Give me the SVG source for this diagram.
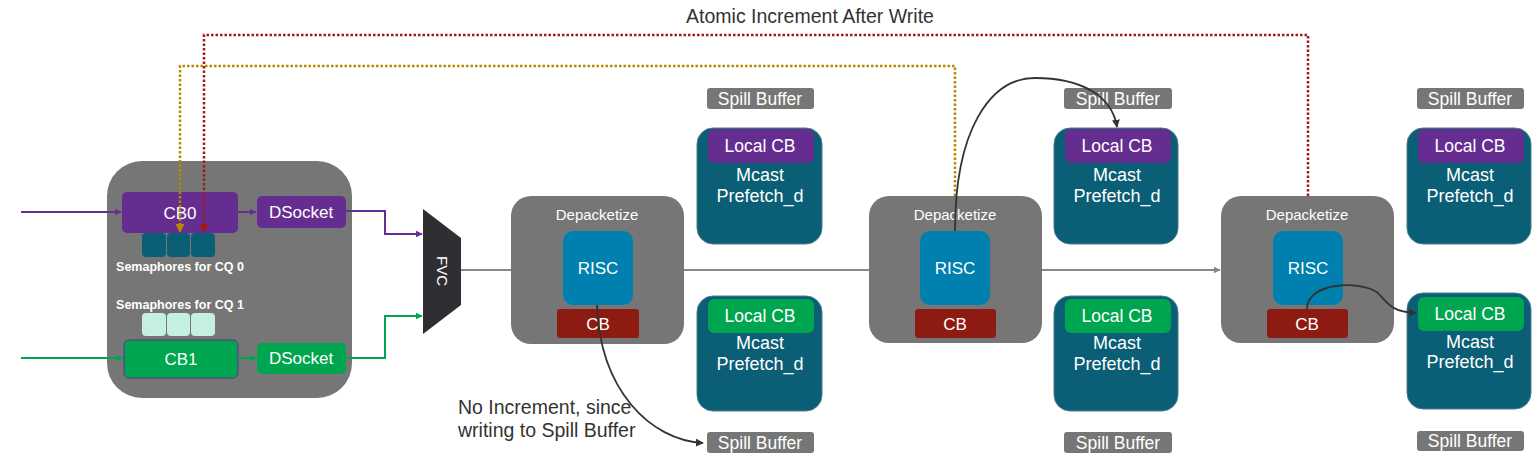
<svg xmlns="http://www.w3.org/2000/svg" width="1540" height="461" viewBox="0 0 1540 461">
<defs>
<style>
text{font-family:"Liberation Sans",Arial,sans-serif;}
.w{fill:#fff;text-anchor:middle;}
.dk{fill:#333;}
.gray{fill:#767676;}
.purple{fill:#662d91;}
.green{fill:#00a54f;}
.teal{fill:#0a5e75;}
.mc{fill:#0a5e75;stroke:#4f7c8b;stroke-width:1;}
.risc{fill:#0080ae;}
.cbr{fill:#8e1b12;}
.dot{fill:none;stroke-width:2.5;stroke-dasharray:2.5 2;}
.sb{font-size:17.5px;}
.lc{font-size:17.5px;}
.mt{font-size:18px;}
</style>
<marker id="aP" viewBox="0 0 10 10" refX="9" refY="5" markerWidth="7" markerHeight="7" orient="auto" markerUnits="userSpaceOnUse"><path d="M0,0 L10,5 L0,10 z" fill="#662d91"/></marker>
<marker id="aG" viewBox="0 0 10 10" refX="9" refY="5" markerWidth="7" markerHeight="7" orient="auto" markerUnits="userSpaceOnUse"><path d="M0,0 L10,5 L0,10 z" fill="#00a54f"/></marker>
<marker id="aGr" viewBox="0 0 10 10" refX="9" refY="5" markerWidth="7" markerHeight="7" orient="auto" markerUnits="userSpaceOnUse"><path d="M0,0 L10,5 L0,10 z" fill="#888"/></marker>
<marker id="aK" viewBox="0 0 10 10" refX="9" refY="5" markerWidth="8" markerHeight="8" orient="auto" markerUnits="userSpaceOnUse"><path d="M0,0 L10,5 L0,10 z" fill="#333"/></marker>
<marker id="aY" viewBox="0 0 10 10" refX="9" refY="5" markerWidth="9" markerHeight="9" orient="auto" markerUnits="userSpaceOnUse"><path d="M0,0 L10,5 L0,10 z" fill="#b58a00"/></marker>
<marker id="aR" viewBox="0 0 10 10" refX="9" refY="5" markerWidth="9" markerHeight="9" orient="auto" markerUnits="userSpaceOnUse"><path d="M0,0 L10,5 L0,10 z" fill="#9e1b1b"/></marker>
</defs>
<rect width="1540" height="461" fill="#fff"/>

<text x="810" y="23" font-size="19.5" class="dk" text-anchor="middle">Atomic Increment After Write</text>

<g id="host">
<rect x="107" y="161" width="245" height="237" rx="35" class="gray"/>
<g id="cb0"><rect x="122" y="192" width="116" height="41" rx="5" class="purple"/><text x="180" y="219" font-size="17" class="w">CB0</text></g>
<g id="dsocket0"><rect x="257" y="196" width="89" height="32" rx="5" class="purple"/><text x="301" y="218" font-size="17" class="w">DSocket</text></g>
<g id="sem0">
<rect x="142" y="233" width="24" height="24" rx="4" class="teal"/>
<rect x="167" y="233" width="23" height="24" rx="4" class="teal"/>
<rect x="191" y="233" width="24" height="24" rx="4" class="teal"/>
<text x="180" y="271" font-size="12.5" font-weight="bold" class="w">Semaphores for CQ 0</text>
</g>
<g id="sem1">
<text x="180" y="309" font-size="12.5" font-weight="bold" class="w">Semaphores for CQ 1</text>
<rect x="142" y="313" width="24" height="23" rx="4" fill="#c5efe0"/>
<rect x="167" y="313" width="23" height="23" rx="4" fill="#c5efe0"/>
<rect x="191" y="313" width="24" height="23" rx="4" fill="#c5efe0"/>
</g>
<g id="cb1"><rect x="124" y="340" width="114" height="38" rx="5" class="green" stroke="#662d91" stroke-width="1"/><text x="181" y="365" font-size="17" class="w">CB1</text></g>
<g id="dsocket1"><rect x="257" y="343" width="89" height="31" rx="5" class="green"/><text x="301" y="364" font-size="17" class="w">DSocket</text></g>
</g>

<g id="fvc">
<polygon points="423,209 461,238 461,305 423,334" fill="#2e2e33"/>
<text x="0" y="0" font-size="15" class="w" transform="translate(437,271) rotate(90)">FVC</text>
</g>

<g id="dep1">
<rect x="511" y="196" width="173" height="148" rx="20" class="gray"/>
<text x="597" y="220" font-size="15" class="w">Depacketize</text>
<rect x="563" y="231" width="70" height="74" rx="10" class="risc"/>
<text x="598" y="274" font-size="17" class="w">RISC</text>
<rect x="557" y="309" width="82" height="29" rx="3" class="cbr"/>
<text x="598" y="330" font-size="17" class="w">CB</text>
</g>
<g id="dep2">
<rect x="869" y="196" width="173" height="147" rx="20" class="gray"/>
<text x="955" y="220" font-size="15" class="w">Depacketize</text>
<rect x="920" y="231" width="70" height="74" rx="10" class="risc"/>
<text x="955" y="274" font-size="17" class="w">RISC</text>
<rect x="915" y="309" width="81" height="29" rx="3" class="cbr"/>
<text x="955" y="330" font-size="17" class="w">CB</text>
</g>
<g id="dep3">
<rect x="1221" y="196" width="173" height="147" rx="20" class="gray"/>
<text x="1307" y="220" font-size="15" class="w">Depacketize</text>
<rect x="1273" y="231" width="70" height="74" rx="10" class="risc"/>
<text x="1308" y="274" font-size="17" class="w">RISC</text>
<rect x="1267" y="309" width="81" height="29" rx="3" class="cbr"/>
<text x="1307" y="330" font-size="17" class="w">CB</text>
</g>

<g id="spill1t"><rect x="707" y="88" width="107" height="21" rx="3" class="gray"/><text x="760" y="104.5" class="w sb">Spill Buffer</text></g>
<g id="spill1b"><rect x="707" y="432" width="107" height="21" rx="3" class="gray"/><text x="760" y="448.5" class="w sb">Spill Buffer</text></g>
<g id="spill2t"><rect x="1064" y="88" width="108" height="21" rx="3" class="gray"/><text x="1118" y="104.5" class="w sb">Spill Buffer</text></g>
<g id="spill2b"><rect x="1064" y="432" width="108" height="21" rx="3" class="gray"/><text x="1118" y="448.5" class="w sb">Spill Buffer</text></g>
<g id="spill3t"><rect x="1417" y="88" width="107" height="21" rx="3" class="gray"/><text x="1470" y="104.5" class="w sb">Spill Buffer</text></g>
<g id="spill3b"><rect x="1417" y="431" width="107" height="20" rx="3" class="gray"/><text x="1470" y="447" class="w sb">Spill Buffer</text></g>

<g id="mc1t">
<rect x="697" y="128" width="125" height="116" rx="16" class="mc"/>
<rect x="708" y="129" width="106" height="34" rx="6" class="purple"/>
<text x="760" y="152" class="w lc">Local CB</text>
<text x="760" y="181" class="w mt">Mcast</text>
<text x="760" y="202" class="w mt">Prefetch_d</text>
</g>
<g id="mc1b">
<rect x="697" y="296" width="125" height="115" rx="16" class="mc"/>
<rect x="708" y="299" width="106" height="34" rx="6" class="green"/>
<text x="760" y="322" class="w lc">Local CB</text>
<text x="760" y="349" class="w mt">Mcast</text>
<text x="760" y="370" class="w mt">Prefetch_d</text>
</g>
<g id="mc2t">
<rect x="1054" y="128" width="124" height="116" rx="16" class="mc"/>
<rect x="1065" y="129" width="106" height="34" rx="6" class="purple"/>
<text x="1117" y="152" class="w lc">Local CB</text>
<text x="1117" y="181" class="w mt">Mcast</text>
<text x="1117" y="202" class="w mt">Prefetch_d</text>
</g>
<g id="mc2b">
<rect x="1054" y="296" width="124" height="115" rx="16" class="mc"/>
<rect x="1065" y="299" width="106" height="34" rx="6" class="green"/>
<text x="1117" y="322" class="w lc">Local CB</text>
<text x="1117" y="349" class="w mt">Mcast</text>
<text x="1117" y="370" class="w mt">Prefetch_d</text>
</g>
<g id="mc3t">
<rect x="1407" y="128" width="124" height="116" rx="16" class="mc"/>
<rect x="1418" y="129" width="106" height="34" rx="6" class="purple"/>
<text x="1470" y="152" class="w lc">Local CB</text>
<text x="1470" y="181" class="w mt">Mcast</text>
<text x="1470" y="202" class="w mt">Prefetch_d</text>
</g>
<g id="mc3b">
<rect x="1407" y="293" width="124" height="116" rx="16" class="mc"/>
<rect x="1418" y="297" width="106" height="34" rx="6" class="green"/>
<text x="1470" y="320" class="w lc">Local CB</text>
<text x="1470" y="348" class="w mt">Mcast</text>
<text x="1470" y="368" class="w mt">Prefetch_d</text>
</g>

<text x="458" y="414" font-size="19.5" class="dk">No Increment, since</text>
<text x="458" y="437" font-size="19.5" class="dk">writing to Spill Buffer</text>

<g id="connectors">
<path d="M21,212 H121" stroke="#662d91" stroke-width="2" fill="none" marker-end="url(#aP)"/>
<path d="M238,212 H256" stroke="#662d91" stroke-width="2" fill="none" marker-end="url(#aP)"/>
<path d="M346,211 H385 V234 H422" stroke="#662d91" stroke-width="2" fill="none" marker-end="url(#aP)"/>
<path d="M21,358 H123" stroke="#00a54f" stroke-width="2" fill="none" marker-end="url(#aG)"/>
<path d="M238,358 H256" stroke="#00a54f" stroke-width="2" fill="none" marker-end="url(#aG)"/>
<path d="M346,358 H385 V316 H422" stroke="#00a54f" stroke-width="2" fill="none" marker-end="url(#aG)"/>
<path d="M461,270 H511" stroke="#888" stroke-width="2" fill="none"/>
<path d="M684,270 H869" stroke="#888" stroke-width="2" fill="none"/>
<path d="M1042,270 H1220" stroke="#888" stroke-width="2" fill="none" marker-end="url(#aGr)"/>
<path d="M955,196 V66 H180 V232" class="dot" stroke="#b58a00" marker-end="url(#aY)"/>
<path d="M1308,196 V35 H204 V232" class="dot" stroke="#9e1b1b" marker-end="url(#aR)"/>
<path d="M597,305 C600,390 650,440 703,443" stroke="#333" stroke-width="1.8" fill="none" marker-end="url(#aK)"/>
<path d="M955,231 C955,130 990,78 1035,78 C1080,78 1112,95 1117,127" stroke="#333" stroke-width="1.8" fill="none" marker-end="url(#aK)"/>
<path d="M1307,309 C1307,282 1360,280 1378,293 C1388,304 1392,312 1416,313" stroke="#333" stroke-width="1.8" fill="none" marker-end="url(#aK)"/>
</g>
</svg>
